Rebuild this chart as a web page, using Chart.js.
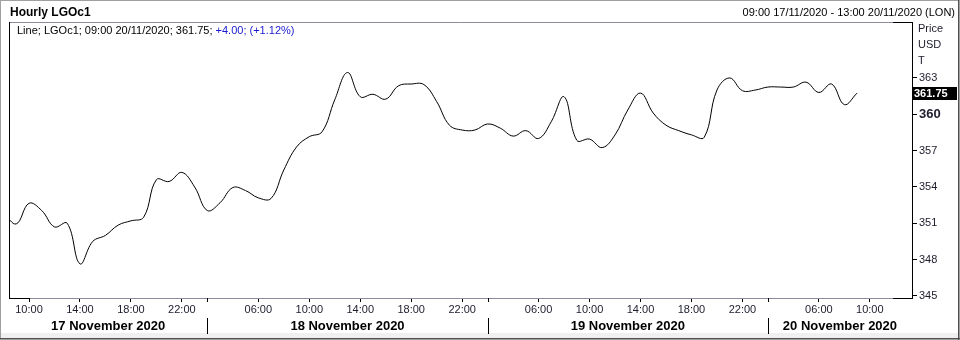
<!DOCTYPE html>
<html>
<head>
<meta charset="utf-8">
<script src="https://cdn.jsdelivr.net/npm/chart.js@4"></script>
<style>
  html, body { margin: 0; padding: 0; background: #fff; }
  canvas { display: block; }
</style>
</head>
<body>
<canvas id="chart" width="960" height="340"></canvas>
<script>
// ── Data ──────────────────────────────────────────────────────────────────
// Trading hours per day (00:00 and 01:00 are not traded)
const sessionHours = ["02:00", "03:00", "04:00", "05:00", "06:00", "07:00", "08:00", "09:00",
  "10:00", "11:00", "12:00", "13:00", "14:00", "15:00", "16:00", "17:00", "18:00", "19:00",
  "20:00", "21:00", "22:00", "23:00"];
const dayNames = ["17 November 2020", "18 November 2020", "19 November 2020", "20 November 2020"];
const firstHour = ["08:00", "02:00", "02:00", "02:00"];

// Hourly close, LGOc1 (USD/T)
const prices17 = [351.9, 350.95, 352.65, 352.05, 350.7, 351.0, 347.65, 349.5, 350.0, 350.85,
  351.2, 351.5, 354.6, 354.45, 355.2, 354.0];
const prices18 = [352.05, 352.7, 353.95, 353.7, 353.1, 353.05, 355.4, 357.3, 358.15, 358.55,
  361.2, 363.45, 361.45, 361.65, 361.25, 362.35, 362.5, 362.45, 361.05, 359.1, 358.7, 358.7];
const prices19 = [359.2, 358.85, 358.2, 358.65, 358.0, 359.4, 361.45, 357.85, 357.95, 357.25,
  358.3, 360.35, 361.75, 360.1, 359.1, 358.65, 358.3, 358.1, 362.0, 363.0, 361.95, 362.0];
const prices20 = [362.25, 362.25, 362.25, 362.65, 361.8, 362.5, 360.8, 361.75];
const pricesByDay = [prices17, prices18, prices19, prices20];

const labelledHours = ["06:00", "10:00", "14:00", "18:00", "22:00"];
const yTicks = [345, 348, 351, 354, 357, 360, 363];
const lastPrice = 361.75;

// ── Helpers ───────────────────────────────────────────────────────────────
const FONT = "'Liberation Sans', Arial, sans-serif";
const TEXT = "#1c1c2c";

// slot 0 = 09:00 17/11
function slotOf(day, hour) {
  return day * sessionHours.length + sessionHours.indexOf(hour) - 7;
}

const points = [];
pricesByDay.forEach((list, d) => {
  const start = sessionHours.indexOf(firstHour[d]);
  list.forEach((p, k) => points.push({ x: slotOf(d, sessionHours[start + k]), y: p }));
});

const X_MIN = -0.57, X_MAX = 70.31;   // 09:00 17/11 – 13:00 20/11
const tickLabels = {};
dayNames.forEach((_, d) => {
  labelledHours.forEach((h) => {
    const s = slotOf(d, h);
    if (s >= X_MIN && s <= X_MAX) tickLabels[s] = h;
  });
});
const dayStarts = [1, 2, 3].map((d) => slotOf(d, "02:00"));

// ── Decorations: frame, header, day row, last-value tag ───────────────────
const decorations = {
  id: "decorations",
  beforeDraw(chart) {
    const c = chart.ctx;
    c.save();
    c.fillStyle = "#fff";
    c.fillRect(0, 0, 960, 340);
    c.fillStyle = "#f0f0f0";
    c.fillRect(0, 333, 960, 7);
    c.restore();
  },
  afterDraw(chart) {
    const c = chart.ctx;
    const a = chart.chartArea;
    const xs = chart.scales.x;
    const ys = chart.scales.y;
    c.save();

    // outer border
    c.strokeStyle = "#a0a0a0";
    c.lineWidth = 1;
    c.strokeRect(0.5, 0.5, 959, 339);
    c.strokeStyle = "#505050";
    c.beginPath();
    c.moveTo(0, 338.5); c.lineTo(960, 338.5);
    c.moveTo(958.5, 0); c.lineTo(958.5, 340);
    c.stroke();

    // plot frame
    c.strokeStyle = "#8c8c9c";
    c.beginPath();
    c.moveTo(a.left, a.top + 0.5); c.lineTo(a.right, a.top + 0.5);
    c.moveTo(a.left, a.bottom + 0.5); c.lineTo(a.right, a.bottom + 0.5);
    c.stroke();
    c.strokeStyle = "#000";
    c.beginPath();
    c.moveTo(a.left + 0.5, a.top); c.lineTo(a.left + 0.5, a.bottom + 1);
    c.moveTo(a.right + 0.5, a.top); c.lineTo(a.right + 0.5, a.bottom + 1);
    c.moveTo(a.left, a.bottom + 0.5); c.lineTo(a.left + 21, a.bottom + 0.5);
    c.moveTo(a.right - 19, a.bottom + 0.5); c.lineTo(a.right + 1, a.bottom + 0.5);
    c.moveTo(a.right - 19, a.top + 0.5); c.lineTo(a.right + 1, a.top + 0.5);
    c.stroke();

    // header
    c.textBaseline = "middle";
    c.fillStyle = "#000";
    c.font = "bold 12px " + FONT;
    c.textAlign = "left";
    c.fillText("Hourly LGOc1", 10, 13);
    c.font = "11px " + FONT;
    c.textAlign = "right";
    c.fillText("09:00 17/11/2020 - 13:00 20/11/2020 (LON)", 955, 13);

    // legend line
    c.textAlign = "left";
    const part1 = "Line; LGOc1; 09:00 20/11/2020; 361.75; ";
    c.fillText(part1, 17, 31);
    c.fillStyle = "#1a1ad0";
    c.fillText("+4.00; (+1.12%)", 17 + c.measureText(part1).width, 31);

    // axis title
    c.fillStyle = TEXT;
    c.fillText("Price", 918, 29);
    c.fillText("USD", 918, 45);
    c.fillText("T", 918, 61);

    // last value tag
    const ly = Math.round(ys.getPixelForValue(lastPrice));
    c.fillStyle = "#000";
    c.fillRect(a.right, ly - 6, 45, 13);
    c.fillStyle = "#fff";
    c.font = "bold 11px " + FONT;
    c.fillText("361.75", a.right + 2, ly + 0.5);

    // day boundaries and day names
    c.strokeStyle = "#000";
    c.beginPath();
    dayStarts.forEach((s) => {
      const px = Math.round(xs.getPixelForValue(s)) + 0.5;
      c.moveTo(px, a.bottom); c.lineTo(px, a.bottom + 4);
      c.moveTo(px, a.bottom + 20); c.lineTo(px, 334);
    });
    c.stroke();
    const edges = [a.left].concat(dayStarts.map((s) => xs.getPixelForValue(s)), [a.right]);
    c.fillStyle = "#000";
    c.font = "bold 13px " + FONT;
    c.textAlign = "center";
    dayNames.forEach((name, d) => {
      c.fillText(name, (edges[d] + edges[d + 1]) / 2, 326);
    });
    c.restore();
  },
};

// ── Chart ─────────────────────────────────────────────────────────────────
new Chart(document.getElementById("chart"), {
  type: "line",
  data: {
    datasets: [{
      label: "LGOc1",
      data: points,
      borderColor: "#000",
      borderWidth: 1,
      pointRadius: 0,
      tension: 0.4,
      fill: false,
    }],
  },
  options: {
    responsive: false,
    animation: false,
    events: [],
    layout: { padding: { top: 22, left: 9, right: 0, bottom: 0 } },
    plugins: { legend: { display: false }, tooltip: { enabled: false } },
    scales: {
      x: {
        type: "linear",
        position: "bottom",
        min: X_MIN,
        max: X_MAX,
        afterFit: (scale) => { scale.height = 42; },
        afterBuildTicks: (scale) => {
          scale.ticks = Object.keys(tickLabels).map((v) => ({ value: Number(v) }));
        },
        ticks: {
          autoSkip: false,
          maxRotation: 0,
          padding: 1,
          color: TEXT,
          font: { family: FONT, size: 11 },
          callback: (v) => tickLabels[v] || "",
        },
        grid: { drawOnChartArea: false, tickLength: 4, color: "#000" },
        border: { display: false },
      },
      y: {
        type: "linear",
        position: "right",
        min: 344.83,
        max: 367.62,
        afterFit: (scale) => { scale.width = 48; },
        afterBuildTicks: (scale) => {
          scale.ticks = yTicks.map((v) => ({ value: v }));
        },
        ticks: {
          padding: 2,
          color: TEXT,
          font: (ctx) => (ctx.tick && ctx.tick.value === 360)
            ? { family: FONT, size: 13, weight: "bold" }
            : { family: FONT, size: 11 },
          callback: (v) => String(v),
        },
        grid: { drawOnChartArea: false, tickLength: 5, color: "#000" },
        border: { display: false },
      },
    },
  },
  plugins: [decorations],
});
</script>
</body>
</html>
